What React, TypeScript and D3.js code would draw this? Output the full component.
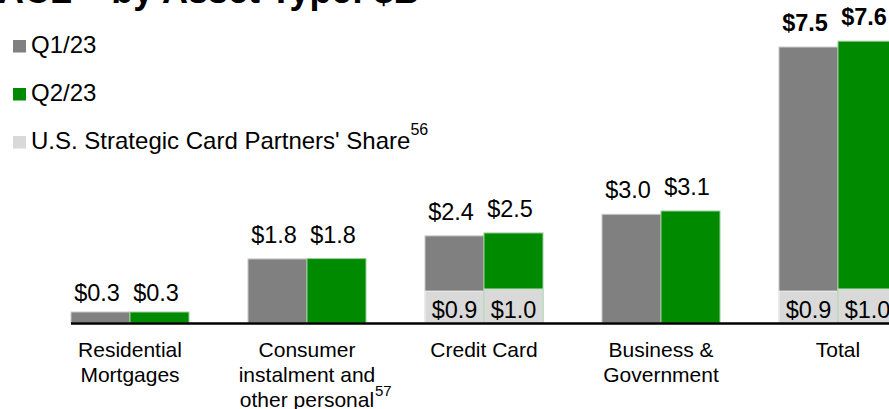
import React from "react";
import * as d3 from "d3";

const categories = ["Residential Mortgages", "Consumer instalment and other personal", "Credit Card", "Business & Government", "Total"];
const categoryLines = [["Residential", "Mortgages"], ["Consumer", "instalment and", "other personal"], ["Credit Card"], ["Business &", "Government"], ["Total"]];
const categoryNotes = ["", "57", "", "", ""];
const seriesNames = ["Q1/23", "Q2/23"];
const q1Values = [0.3, 1.75, 2.38, 2.97, 7.54];
const q2Values = [0.3, 1.76, 2.46, 3.06, 7.7];
const q1Labels = ["$0.3", "$1.8", "$2.4", "$3.0", "$7.5"];
const q2Labels = ["$0.3", "$1.8", "$2.5", "$3.1", "$7.6"];
const q1Share = [0, 0, 0.87, 0, 0.87];
const q2Share = [0, 0, 0.93, 0, 0.93];
const q1ShareLabels = ["", "", "$0.9", "", "$0.9"];
const q2ShareLabels = ["", "", "$1.0", "", "$1.0"];
const boldLabel = [false, false, false, false, true];
const legendItems = ["Q1/23", "Q2/23", "U.S. Strategic Card Partners' Share"];
const legendNotes = ["", "", "56"];

const W = 889;
const H = 409;
const FONT = "'Liberation Sans', Arial, Helvetica, sans-serif";
const C_Q1 = "#808080";
const C_Q2 = "#008a00";
const C_SHARE = "#d9d9d9";

export default function App() {
  const baseY = 323;
  const x = d3.scaleBand<string>().domain(categories).range([71, 897]).paddingInner(1 / 3).paddingOuter(0);
  const xs = d3.scaleBand<string>().domain(seriesNames).range([0, x.bandwidth()]).padding(0);
  const y = d3.scaleLinear().domain([0, 7.5]).range([baseY, baseY - 274.5]);
  const bw = xs.bandwidth();
  const series = [
    { name: seriesNames[0], values: q1Values, labels: q1Labels, share: q1Share, shareLabels: q1ShareLabels, color: C_Q1, stroke: "#c8c8c8", shareStroke: "#f4f4f4" },
    { name: seriesNames[1], values: q2Values, labels: q2Labels, share: q2Share, shareLabels: q2ShareLabels, color: C_Q2, stroke: "#9ccc9c", shareStroke: "#b5dcb5" },
  ];
  const legendColors = [C_Q1, C_Q2, C_SHARE];

  return (
    <svg width={W} height={H} style={{ position: "absolute", left: 0, top: 0, background: "#fff" }} fontFamily={FONT}>
      <text x={-2} y={3} fontSize={36} fontWeight="bold" fill="#000">ACL – by Asset Type: $B</text>

      {legendItems.map((t, i) => (
        <g key={t}>
          <rect x={13} y={40 + i * 48} width={13} height={12.5} fill={legendColors[i]} />
          <text x={31} y={53 + i * 48} fontSize={24} fill="#000">
            {t}
            {legendNotes[i] && <tspan fontSize={16} dy={-14}>{legendNotes[i]}</tspan>}
          </text>
        </g>
      ))}

      {categories.map((c, i) => {
        const gx = x(c)!;
        return (
          <g key={c}>
            {series.map((s) => {
              const bx = gx + xs(s.name)!;
              const top = y(s.values[i]);
              const shareTop = y(s.share[i]);
              return (
                <g key={s.name}>
                  <rect x={bx} y={top} width={bw} height={baseY - top} fill={s.color} stroke={s.stroke} strokeWidth={1} />
                  {s.share[i] > 0 && (
                    <rect x={bx} y={shareTop} width={bw} height={baseY - shareTop} fill={C_SHARE} stroke={s.shareStroke} strokeWidth={1} />
                  )}
                  {s.shareLabels[i] && (
                    <text x={bx + bw / 2} y={317.5} textAnchor="middle" fontSize={23.5} fill="#000">{s.shareLabels[i]}</text>
                  )}
                  <text x={bx + bw / 2 - 3.5} y={top - (i === 0 ? 11 : 16)} textAnchor="middle" fontSize={23.5} fontWeight={boldLabel[i] ? "bold" : "normal"} fill="#000">{s.labels[i]}</text>
                </g>
              );
            })}
            <text x={gx + x.bandwidth() / 2} y={357} textAnchor="middle" fontSize={21} fill="#000">
              {categoryLines[i].map((ln, j) => (
                <tspan key={j} x={gx + x.bandwidth() / 2} dy={j === 0 ? 0 : 25}>{ln}</tspan>
              ))}
            </text>
            {categoryNotes[i] && (
              <text x={gx + x.bandwidth() / 2 + 68} y={396} fontSize={15} fill="#000">{categoryNotes[i]}</text>
            )}
          </g>
        );
      })}

      <line x1={71} x2={W + 10} y1={baseY + 0.5} y2={baseY + 0.5} stroke="#000" strokeWidth={2.6} />
    </svg>
  );
}
